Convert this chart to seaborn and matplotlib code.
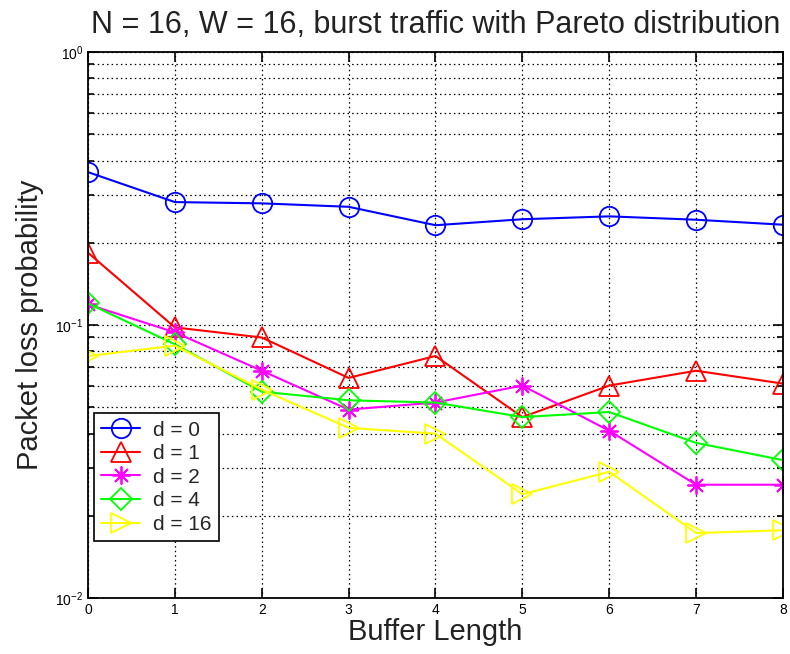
import matplotlib
matplotlib.use('Agg')
import matplotlib.pyplot as plt
import seaborn as sns
import pandas as pd
import numpy as np
from matplotlib.ticker import LogLocator, NullFormatter

sns.set_theme(style="ticks")
plt.rcParams['font.family'] = ['Liberation Sans', 'DejaVu Sans']

# data
buffer_length = [0, 1, 2, 3, 4, 5, 6, 7, 8]
loss_d0 = [0.363, 0.282, 0.279, 0.271, 0.232, 0.244, 0.250, 0.243, 0.233]
loss_d1 = [0.184, 0.098, 0.090, 0.064, 0.077, 0.046, 0.060, 0.068, 0.061]
loss_d2 = [0.119, 0.094, 0.068, 0.049, 0.052, 0.060, 0.041, 0.026, 0.026]
loss_d4 = [0.120, 0.085, 0.057, 0.053, 0.052, 0.046, 0.048, 0.037, 0.032]
loss_d16 = [0.077, 0.084, 0.058, 0.042, 0.040, 0.024, 0.029, 0.0173, 0.0177]

series = [
    ("d = 0", loss_d0, "#0000ff", "o", 14),
    ("d = 1", loss_d1, "#ff0000", "^", 14),
    ("d = 2", loss_d2, "#ff00ff", (8, 2, 0), 13),
    ("d = 4", loss_d4, "#00ff00", "D", 11),
    ("d = 16", loss_d16, "#ffff00", ">", 14),
]

fig = plt.figure(figsize=(7.9, 6.54), dpi=100)
ax = fig.add_axes([0.1114, 0.0856, 0.8797, 0.8349])

for label, vals, color, marker, ms in series:
    df = pd.DataFrame({"x": buffer_length, "y": vals})
    sns.lineplot(data=df, x="x", y="y", ax=ax, color=color, marker=marker,
                 markersize=ms, markerfacecolor="none", markeredgecolor=color,
                 markeredgewidth=1.3, linewidth=1.5, label=label)

ax.set_yscale("log")
ax.set_ylim(1e-2, 1)
ax.set_xlim(0, 8)
ax.set_xticks(buffer_length)
ax.yaxis.set_major_locator(LogLocator(base=10))
ax.yaxis.set_minor_locator(LogLocator(base=10, subs=np.arange(2, 10)))
ax.yaxis.set_minor_formatter(NullFormatter())

ax.grid(True, which="major", color="black", linestyle=(0, (1.2, 2.5)), linewidth=0.9)
ax.grid(True, which="minor", axis="y", color="black", linestyle=(0, (1.2, 2.5)), linewidth=0.9)

ax.tick_params(which="both", direction="in", top=True, right=True, colors="black",
               labelsize=10, width=1.2)
ax.tick_params(which="major", length=7)
ax.tick_params(which="minor", length=4)
for s in ax.spines.values():
    s.set_color("black")
    s.set_linewidth(1.3)

ax.set_title("N = 16, W = 16, burst traffic with Pareto distribution",
             fontsize=22, color="#222222", pad=14)
ax.set_xlabel("Buffer Length", fontsize=21, color="#222222", labelpad=1)
ax.set_ylabel("Packet loss probability", fontsize=21, color="#222222", labelpad=8)

leg = ax.legend(loc="lower left", bbox_to_anchor=(0.008, 0.104), fontsize=15,
                frameon=True, fancybox=False, edgecolor="black", framealpha=1,
                handlelength=1.9, handletextpad=0.6, borderpad=0.35,
                labelspacing=0.22, borderaxespad=0)
leg.get_frame().set_linewidth(1.2)

fig.savefig("out.png", dpi=100, facecolor="white")
